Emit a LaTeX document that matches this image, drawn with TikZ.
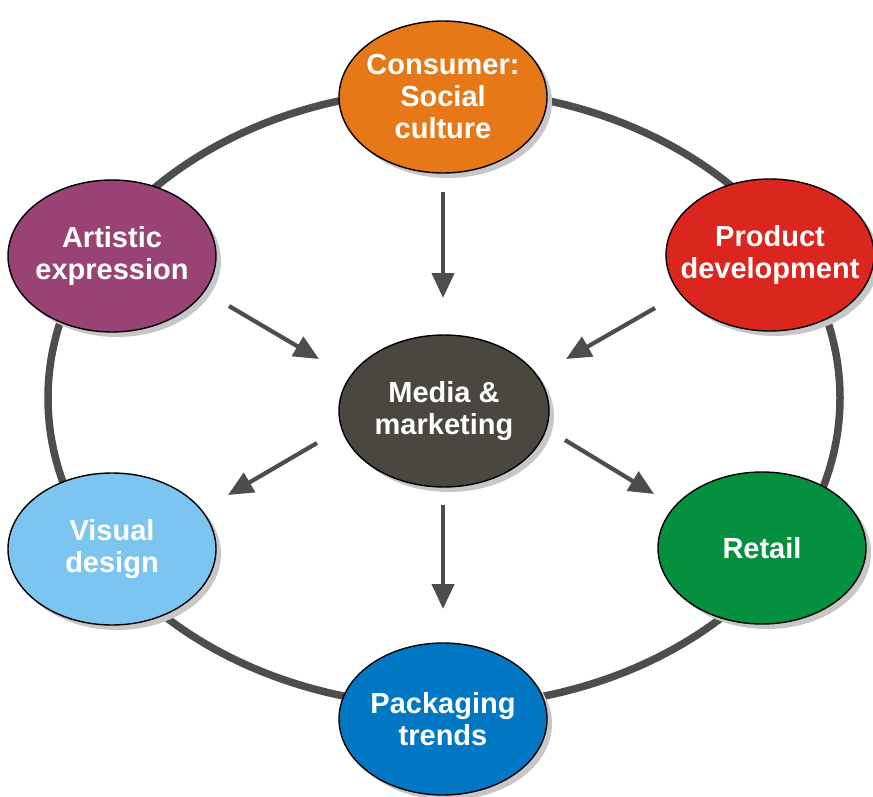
\documentclass[tikz,border=0pt]{standalone}
\usepackage{fontspec}
\setmainfont{Liberation Sans}
\usetikzlibrary{shapes.geometric,arrows.meta,shadows}
\definecolor{cOrange}{HTML}{E67817}
\definecolor{cPurple}{HTML}{984374}
\definecolor{cRed}{HTML}{DA261E}
\definecolor{cMedia}{HTML}{4A4640}
\definecolor{cSky}{HTML}{7CC5F0}
\definecolor{cGreen}{HTML}{04903E}
\definecolor{cBlue}{HTML}{0278C4}
\definecolor{cLine}{HTML}{4D4D4D}
\tikzset{
  topic/.style={ellipse, draw=black, line width=1.4pt, minimum width=208pt,
    minimum height=152pt, inner xsep=-45pt, inner ysep=-35pt, text=white, align=center,
    font=\bfseries\fontsize{29}{32}\selectfont,
    drop shadow={shadow xshift=5pt, shadow yshift=-5pt, fill=black!22, opacity=1}},
  ring/.style={draw=cLine, line width=7.5pt},
  flow/.style={draw=cLine, line width=4.2pt, -{Triangle[width=22pt,length=25pt]}, fill=cLine}
}
\begin{document}
\begin{tikzpicture}[x=1pt,y=-1pt]
\useasboundingbox (0,0) rectangle (873,797);
% outer cycle
\draw[ring] (444,398) ellipse [x radius=396, y radius=308];
% topics
\node[topic, fill=cOrange] (cons) at (443,97) {Consumer:\\Social\\culture};
\node[topic, fill=cPurple] (art) at (112,256) {Artistic\\expression};
\node[topic, fill=cRed] (prod) at (770,255) {Product\\development};
\node[topic, fill=cMedia, minimum width=210pt] (media) at (444,411) {Media \&\\marketing};
\node[topic, fill=cSky] (vis) at (112,549) {Visual\\design};
\node[topic, fill=cGreen] (ret) at (762,548) {Retail};
\node[topic, fill=cBlue] (pack) at (443,719) {Packaging\\trends};
% arrow end points
\coordinate (c1s) at (443,192); \coordinate (c1e) at (443,298);
\coordinate (c2s) at (229,306); \coordinate (c2e) at (319,359);
\coordinate (c3s) at (655,308); \coordinate (c3e) at (566,359);
\coordinate (c4s) at (317,443); \coordinate (c4e) at (228,495);
\coordinate (c5s) at (565,440); \coordinate (c5e) at (654,494);
\coordinate (c6s) at (443,505); \coordinate (c6e) at (443,609);
\foreach \i in {1,...,6} { \draw[flow] (c\i s) -- (c\i e); }
\end{tikzpicture}
\end{document}
